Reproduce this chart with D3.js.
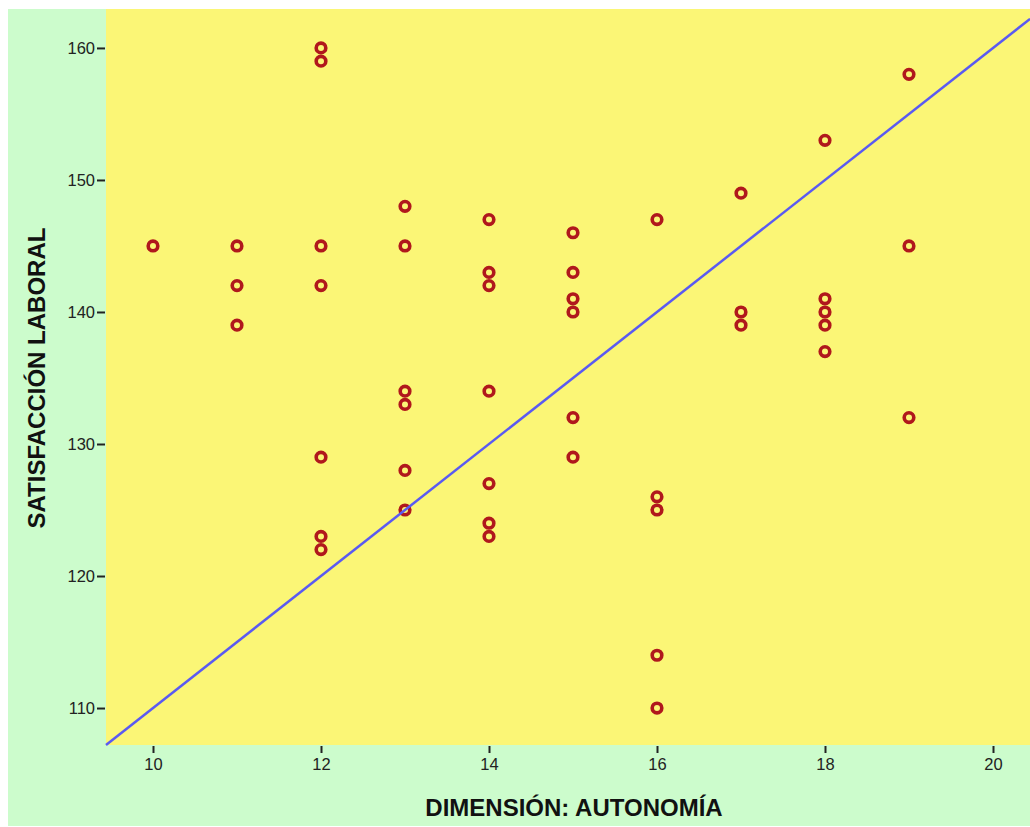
<!DOCTYPE html>
<html>
<head>
<meta charset="utf-8">
<script src="https://cdn.jsdelivr.net/npm/d3@7"></script>
<style>
  body { margin: 0; background: #fff; }
  svg { display: block; }
</style>
</head>
<body>
<div class="scatter"></div>
<script>
const WIDTH = 1030;
const HEIGHT = 827;

// autonomia score, satisfaccion score
const AUTONOMIA = [10, 11, 11, 11, 12, 12, 12, 12, 12, 12, 12,
  13, 13, 13, 13, 13, 13, 14, 14, 14, 14, 14, 14, 14,
  15, 15, 15, 15, 15, 15, 16, 16, 16, 16, 16,
  17, 17, 17, 18, 18, 18, 18, 18, 19, 19, 19];
const SATISFACCION = [145, 145, 142, 139, 160, 159, 145, 142, 129, 123, 122,
  148, 145, 134, 133, 128, 125, 147, 143, 142, 134, 127, 124, 123,
  146, 143, 141, 140, 132, 129, 147, 126, 125, 114, 110,
  149, 140, 139, 153, 141, 140, 139, 137, 158, 145, 132];
const X_TICKS = [10, 12, 14, 16, 18, 20];
const Y_TICKS = [110, 120, 130, 140, 150, 160];
// fit line: satisfaccion = 60 + 5 * autonomia
const FIT = [60, 5];

const PLOT_LEFT = 106;
const PLOT_RIGHT = 1030;
const PLOT_TOP = 9;
const PLOT_BOTTOM = 745;
const FONT = "Arial, 'Liberation Sans', sans-serif";

const svg = d3.select(".scatter").append("svg").attr("width", WIDTH).attr("height", HEIGHT);

// background
svg.append("rect").attr("x", 8).attr("y", 9).attr("width", WIDTH - 8).attr("height", HEIGHT - 10).attr("fill", "#ccfccc");
svg.append("rect").attr("x", PLOT_LEFT).attr("y", PLOT_TOP)
  .attr("width", PLOT_RIGHT - PLOT_LEFT).attr("height", PLOT_BOTTOM - PLOT_TOP).attr("fill", "#fbf676");

const xScale = d3.scaleLinear().domain([9.4405, 20.4405]).range([PLOT_LEFT, PLOT_RIGHT]);
const yScale = d3.scaleLinear().domain([107.2, 162.95]).range([PLOT_BOTTOM, PLOT_TOP]);

// axes
const xAxis = svg.append("g").attr("transform", `translate(0, ${PLOT_BOTTOM + 1})`)
  .call(d3.axisBottom(xScale).tickValues(X_TICKS).tickSize(7).tickPadding(5));
const yAxis = svg.append("g").attr("transform", `translate(${PLOT_LEFT - 1}, 0)`)
  .call(d3.axisLeft(yScale).tickValues(Y_TICKS).tickSize(8).tickPadding(2));

[xAxis, yAxis].forEach(ax => {
  ax.select(".domain").remove();
  ax.selectAll(".tick line").attr("stroke", "#222").attr("stroke-width", 2);
  ax.selectAll(".tick text").attr("fill", "#222").style("font-family", FONT).style("font-size", "16.5px");
});

// points
const data = AUTONOMIA.map((a, i) => ({ x: a, y: SATISFACCION[i] }));
svg.selectAll("circle.pt").data(data).enter().append("circle")
  .attr("class", "pt")
  .attr("cx", d => xScale(d.x))
  .attr("cy", d => yScale(d.y))
  .attr("r", 4.8)
  .attr("fill", "none")
  .attr("stroke", "#b0181c")
  .attr("stroke-width", 3.6);

// fit line
const x0 = xScale.domain()[0], x1 = xScale.domain()[1];
svg.append("line")
  .attr("x1", xScale(x0)).attr("y1", yScale(FIT[0] + FIT[1] * x0))
  .attr("x2", xScale(x1)).attr("y2", yScale(FIT[0] + FIT[1] * x1))
  .attr("stroke", "#5a5af2").attr("stroke-width", 2.5);

// titles
svg.append("text").attr("x", 574).attr("y", 816).attr("text-anchor", "middle")
  .style("font-family", FONT).style("font-size", "24px").style("font-weight", "bold")
  .attr("fill", "#111").text("DIMENSIÓN: AUTONOMÍA");
svg.append("text").attr("transform", "translate(45, 378) rotate(-90)").attr("text-anchor", "middle")
  .style("font-family", FONT).style("font-size", "24px").style("font-weight", "bold")
  .attr("fill", "#111").text("SATISFACCIÓN LABORAL");
</script>
</body>
</html>
